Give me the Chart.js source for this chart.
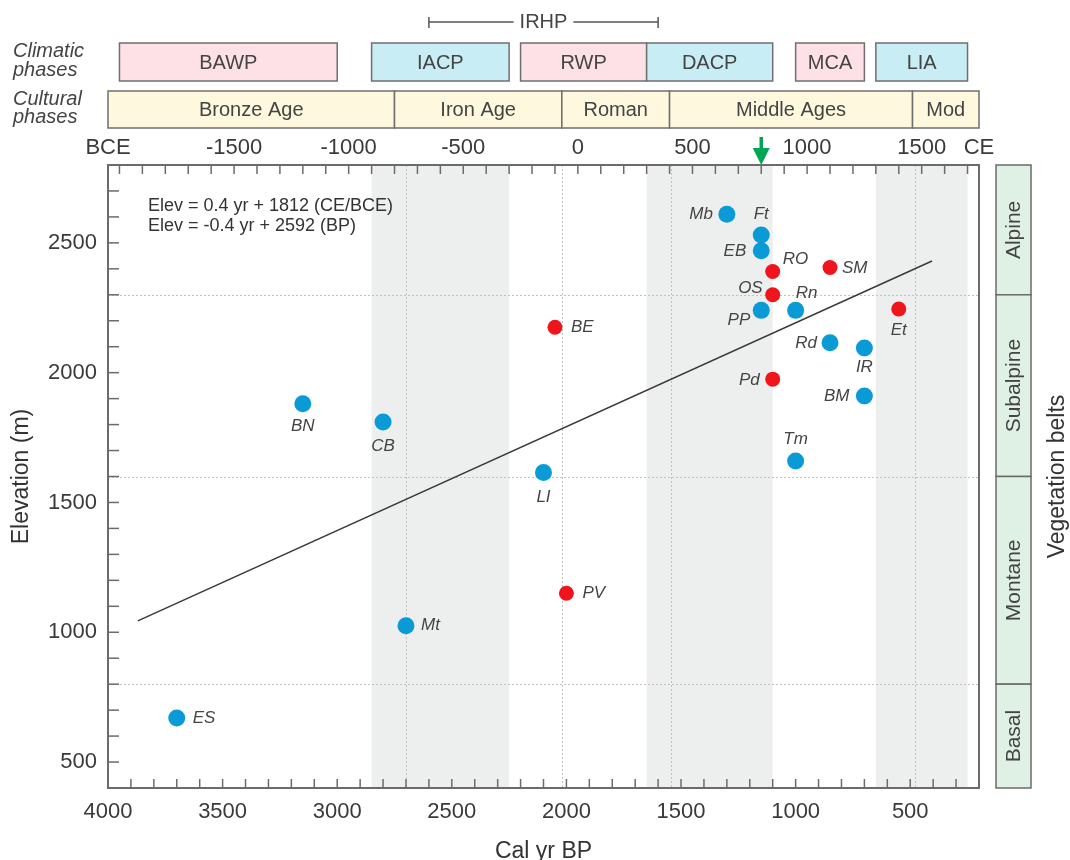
<!DOCTYPE html>
<html>
<head>
<meta charset="utf-8">
<title>Elevation vs age</title>
<script src="https://cdn.jsdelivr.net/npm/chart.js@4"></script>
<style>
  body { margin: 0; background: #fff; }
  canvas { display: block; }
</style>
</head>
<body>
<canvas id="grafico" width="1070" height="860"></canvas>
<script>
// sites in blue (cal yr BP, elevation m)
const blueSites = ["Mb", "Ft", "EB", "PP", "Rn", "Rd", "IR", "BM", "Tm", "LI", "BN", "CB", "Mt", "ES"];
const blueAges = [1300, 1150, 1150, 1150, 1000, 850, 700, 700, 1000, 2100, 3150, 2800, 2700, 3700];
const blueElev = [2610, 2530, 2470, 2240, 2240, 2115, 2095, 1910, 1660, 1615, 1880, 1810, 1025, 670];

// sites in red
const redSites = ["RO", "SM", "OS", "Et", "Pd", "BE", "PV"];
const redAges = [1100, 850, 1100, 550, 1100, 2050, 2000];
const redElev = [2390, 2405, 2300, 2245, 1975, 2175, 1150];

// regression line ends
const trendAges = [3870, 405];
const trendElev = [1044, 2430];

// climatic phases (cal yr BP)
const climaticNames = ["BAWP", "IACP", "RWP", "DACP", "MCA", "LIA"];
const climaticStart = [3950, 2850, 2200, 1650, 1000, 650];
const climaticEnd = [3000, 2250, 1650, 1100, 700, 250];
const climaticWarm = [true, false, true, false, true, false];

// cultural phases (cal yr BP)
const culturalNames = ["Bronze Age", "Iron Age", "Roman", "Middle Ages", "Mod"];
const culturalStart = [4000, 2750, 2020, 1550, 490];
const culturalEnd = [2750, 2020, 1550, 490, 200];

// vegetation belts (m)
const beltNames = ["Alpine", "Subalpine", "Montane", "Basal"];
const beltTop = [2800, 2300, 1600, 800];
const beltBottom = [2300, 1600, 800, 400];

// tick labels
const bpTicks = [500, 1000, 1500, 2000, 2500, 3000, 3500, 4000];
const ceTicks = [-2050, -1500, -1000, -500, 0, 500, 1000, 1500, 1750];
const ceLabels = ["BCE", "-1500", "-1000", "-500", "0", "500", "1000", "1500", "CE"];
const elevTicks = [500, 1000, 1500, 2000, 2500];

const ageLines = [2700, 2020, 1545, 480];
const irhpRange = [2600, 1600];
const arrowAge = 1150;

const FONTE = "'Liberation Sans', Arial, sans-serif";

// label placement [dx, dy, align]
const posRotulo = {
  Mb: [-14, 0, "right"], Ft: [0, -21, "center"], EB: [-15, 1, "right"],
  RO: [10, -12, "left"], SM: [12, 1, "left"], OS: [-10, -7, "right"],
  Rn: [0, -17, "left"], PP: [-11, 10, "right"], Et: [0, 21, "center"],
  Rd: [-13, 0, "right"], IR: [0, 19, "center"], Pd: [-13, 1, "right"],
  BM: [-15, 0, "right"], Tm: [0, -22, "center"], LI: [0, 25, "center"],
  PV: [16, 0, "left"], BE: [16, 0, "left"], BN: [0, 22, "center"],
  CB: [0, 24, "center"], Mt: [15, 0, "left"], ES: [16, 0, "left"]
};

function linha(ctx, x1, y1, x2, y2) {
  ctx.beginPath();
  ctx.moveTo(x1, y1);
  ctx.lineTo(x2, y2);
  ctx.stroke();
}

function caixa(ctx, x1, x2, y1, y2, cor, texto) {
  ctx.fillStyle = cor;
  ctx.fillRect(x1, y1, x2 - x1, y2 - y1);
  ctx.strokeStyle = "#6f6f6f";
  ctx.lineWidth = 1.5;
  ctx.strokeRect(x1, y1, x2 - x1, y2 - y1);
  ctx.fillStyle = "#444";
  ctx.textAlign = "center";
  ctx.textBaseline = "middle";
  ctx.fillText(texto, (x1 + x2) / 2, (y1 + y2) / 2 + 1);
}

const desenhoExtra = {
  id: "desenhoExtra",
  beforeDatasetsDraw(chart) {
    const { ctx, chartArea: a, scales } = chart;
    const x = scales.x;
    const y = scales.y;
    ctx.save();

    // cold phases as grey bands
    ctx.fillStyle = "#edefee";
    climaticNames.forEach((nome, i) => {
      if (climaticWarm[i]) return;
      const x1 = x.getPixelForValue(climaticStart[i]);
      const x2 = x.getPixelForValue(climaticEnd[i]);
      ctx.fillRect(x1, a.top, x2 - x1, a.bottom - a.top);
    });

    // dotted guide lines
    ctx.strokeStyle = "#c2c2c2";
    ctx.lineWidth = 1;
    ctx.setLineDash([2, 2]);
    ageLines.forEach((v) => {
      const px = Math.round(x.getPixelForValue(v)) + 0.5;
      linha(ctx, px, a.top, px, a.bottom);
    });
    beltTop.slice(1).forEach((v) => {
      const py = Math.round(y.getPixelForValue(v)) + 0.5;
      linha(ctx, a.left, py, a.right, py);
    });
    ctx.setLineDash([]);

    // equations
    ctx.fillStyle = "#333";
    ctx.font = "18px " + FONTE;
    ctx.textAlign = "left";
    ctx.textBaseline = "middle";
    ctx.fillText("Elev = 0.4 yr + 1812 (CE/BCE)", a.left + 40, a.top + 41);
    ctx.fillText("Elev = -0.4 yr + 2592 (BP)", a.left + 40, a.top + 61);
    ctx.restore();
  },
  afterDatasetsDraw(chart) {
    const { ctx, chartArea: a, scales } = chart;
    const x = scales.x;
    const x2 = scales.x2;
    const y = scales.y;
    ctx.save();

    // frame and inward ticks
    ctx.strokeStyle = "#6b6b6b";
    ctx.lineWidth = 2;
    ctx.strokeRect(a.left, a.top, a.right - a.left, a.bottom - a.top);
    ctx.lineWidth = 1.5;
    for (let bp = 300; bp <= 3900; bp += 100) {
      const px = x.getPixelForValue(bp);
      linha(ctx, px, a.bottom, px, a.bottom - 9);
    }
    for (let ce = -2000; ce <= 1700; ce += 100) {
      const px = x2.getPixelForValue(ce);
      linha(ctx, px, a.top, px, a.top + 9);
    }
    for (let m = 500; m <= 2700; m += 100) {
      const py = y.getPixelForValue(m);
      linha(ctx, a.left, py, a.left + 11, py);
    }

    // site labels
    ctx.font = "italic 17px " + FONTE;
    ctx.fillStyle = "#444";
    ctx.textBaseline = "middle";
    [[0, blueSites], [1, redSites]].forEach(([idx, codigos]) => {
      chart.getDatasetMeta(idx).data.forEach((pt, j) => {
        const [dx, dy, al] = posRotulo[codigos[j]];
        ctx.textAlign = al;
        ctx.fillText(codigos[j], pt.x + dx, pt.y + dy);
      });
    });

    // climatic and cultural phase boxes
    ctx.font = "20px " + FONTE;
    climaticNames.forEach((nome, i) => {
      const cor = climaticWarm[i] ? "#fde1e7" : "#c9edf4";
      caixa(ctx, x.getPixelForValue(climaticStart[i]), x.getPixelForValue(climaticEnd[i]), 43, 81, cor, nome);
    });
    culturalNames.forEach((nome, i) => {
      caixa(ctx, x.getPixelForValue(culturalStart[i]), x.getPixelForValue(culturalEnd[i]), 91, 128, "#fdf8de", nome);
    });

    ctx.font = "italic 20px " + FONTE;
    ctx.fillStyle = "#444";
    ctx.textAlign = "left";
    ctx.fillText("Climatic", 13, 51);
    ctx.fillText("phases", 13, 70);
    ctx.fillText("Cultural", 13, 99);
    ctx.fillText("phases", 13, 117);

    // IRHP bracket
    const ix1 = x.getPixelForValue(irhpRange[0]);
    const ix2 = x.getPixelForValue(irhpRange[1]);
    const ixm = (ix1 + ix2) / 2;
    ctx.font = "20px " + FONTE;
    ctx.textAlign = "center";
    ctx.fillText("IRHP", ixm, 22);
    const meia = ctx.measureText("IRHP").width / 2 + 6;
    ctx.strokeStyle = "#555";
    ctx.lineWidth = 1.5;
    linha(ctx, ix1, 22, ixm - meia, 22);
    linha(ctx, ixm + meia, 22, ix2, 22);
    linha(ctx, ix1, 17, ix1, 28);
    linha(ctx, ix2, 17, ix2, 28);

    // green arrow
    const ax = x.getPixelForValue(arrowAge);
    ctx.strokeStyle = "#00a651";
    ctx.fillStyle = "#00a651";
    ctx.lineWidth = 3.5;
    linha(ctx, ax, 137, ax, 151);
    ctx.beginPath();
    ctx.moveTo(ax - 8.5, 148);
    ctx.lineTo(ax + 8.5, 148);
    ctx.lineTo(ax, 165);
    ctx.closePath();
    ctx.fill();

    // vegetation belts
    const bx1 = a.right + 17;
    const bx2 = a.right + 52;
    ctx.font = "21px " + FONTE;
    beltNames.forEach((nome, i) => {
      const y1 = y.getPixelForValue(beltTop[i]);
      const y2 = y.getPixelForValue(beltBottom[i]);
      ctx.fillStyle = "#dff0e4";
      ctx.fillRect(bx1, y1, bx2 - bx1, y2 - y1);
      ctx.strokeStyle = "#6b6b6b";
      ctx.lineWidth = 1.5;
      ctx.strokeRect(bx1, y1, bx2 - bx1, y2 - y1);
      ctx.save();
      ctx.translate((bx1 + bx2) / 2, (y1 + y2) / 2);
      ctx.rotate(-Math.PI / 2);
      ctx.fillStyle = "#444";
      ctx.textAlign = "center";
      ctx.textBaseline = "middle";
      ctx.fillText(nome, 0, 1);
      ctx.restore();
    });
    ctx.save();
    ctx.translate(1058, (a.top + a.bottom) / 2);
    ctx.rotate(-Math.PI / 2);
    ctx.font = "23px " + FONTE;
    ctx.fillStyle = "#333";
    ctx.textAlign = "center";
    ctx.textBaseline = "middle";
    ctx.fillText("Vegetation belts", 0, 0);
    ctx.restore();

    ctx.restore();
  }
};

function montarGrafico() {
  const contexto = document.getElementById("grafico");
  Chart.defaults.font.family = FONTE;
  Chart.defaults.color = "#3a3a3a";

  new Chart(contexto, {
    type: "scatter",
    data: {
      datasets: [
        {
          label: "Blue sites",
          data: blueAges.map((a, i) => ({ x: a, y: blueElev[i] })),
          backgroundColor: "#0a9ad6",
          borderWidth: 0,
          pointRadius: 8.5
        },
        {
          label: "Red sites",
          data: redAges.map((a, i) => ({ x: a, y: redElev[i] })),
          backgroundColor: "#f0141c",
          borderWidth: 0,
          pointRadius: 7.5
        },
        {
          label: "Trend",
          data: trendAges.map((a, i) => ({ x: a, y: trendElev[i] })),
          showLine: true,
          borderColor: "#3a3a3a",
          borderWidth: 1.5,
          pointRadius: 0
        }
      ]
    },
    options: {
      responsive: false,
      animation: false,
      devicePixelRatio: 1,
      layout: { padding: { left: 0, right: 91, top: 0, bottom: 0 } },
      plugins: {
        legend: { display: false },
        tooltip: { enabled: false }
      },
      scales: {
        x: {
          type: "linear",
          position: "bottom",
          reverse: true,
          min: 200,
          max: 4000,
          grid: { display: false, drawTicks: false },
          border: { display: false },
          ticks: {
            autoSkip: false,
            maxRotation: 0,
            padding: 11,
            font: { size: 22 },
            callback: (v) => String(v)
          },
          title: {
            display: true,
            text: "Cal yr BP",
            color: "#333",
            font: { size: 23, lineHeight: 1 },
            padding: { top: 0, bottom: -3 }
          },
          afterBuildTicks: (s) => { s.ticks = bpTicks.map((v) => ({ value: v })); },
          afterFit: (s) => { s.height = 72; s.paddingLeft = 0; s.paddingRight = 0; }
        },
        x2: {
          type: "linear",
          position: "top",
          min: -2050,
          max: 1750,
          grid: { display: false, drawTicks: false },
          border: { display: false },
          ticks: {
            autoSkip: false,
            maxRotation: 0,
            padding: 4,
            font: { size: 22 },
            callback: (v, i) => ceLabels[i]
          },
          afterBuildTicks: (s) => { s.ticks = ceTicks.map((v) => ({ value: v })); },
          afterFit: (s) => { s.height = 165; s.paddingLeft = 0; s.paddingRight = 0; }
        },
        y: {
          type: "linear",
          min: 400,
          max: 2800,
          grid: { display: false, drawTicks: false },
          border: { display: false },
          ticks: {
            autoSkip: false,
            padding: 11,
            font: { size: 22 },
            callback: (v) => String(v)
          },
          title: {
            display: true,
            text: "Elevation (m)",
            color: "#333",
            font: { size: 23 },
            padding: { top: 8, bottom: 0 }
          },
          afterBuildTicks: (s) => { s.ticks = elevTicks.map((v) => ({ value: v })); },
          afterFit: (s) => { s.width = 108; s.paddingTop = 0; s.paddingBottom = 0; }
        }
      }
    },
    plugins: [desenhoExtra]
  });
}

montarGrafico();
</script>
</body>
</html>
